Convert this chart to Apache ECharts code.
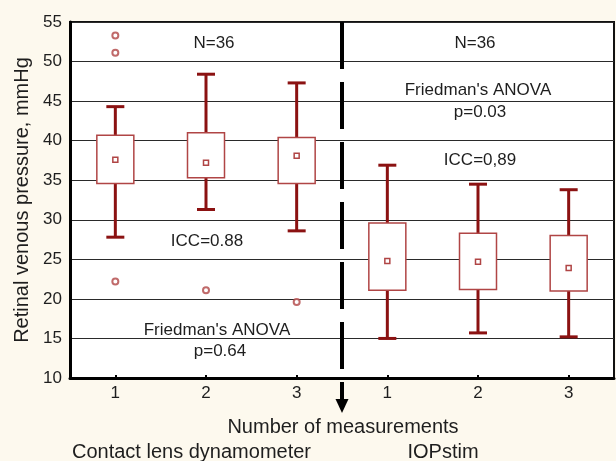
<!DOCTYPE html>
<html>
<head>
<meta charset="utf-8">
<script src="https://cdn.jsdelivr.net/npm/echarts@6/dist/echarts.min.js"></script>
<style>
  html, body { margin: 0; padding: 0; background: #fdf9ee; }
  #chart { width: 616px; height: 461px; }
</style>
</head>
<body>
<div id="chart"></div>
<script>
// measurement number within each device (first three = contact lens dynamometer, last three = IOPstim)
const categories = ["1", "2", "3", "1", "2", "3"];
const whiskerLow = [27.8, 31.3, 28.6, 15.0, 15.7, 15.2];
const boxLow = [34.6, 35.3, 34.6, 21.1, 21.2, 21.0];
const meanValues = [37.6, 37.2, 38.1, 24.8, 24.7, 23.9];
const boxHigh = [40.7, 41.0, 40.4, 29.6, 28.3, 28.0];
const whiskerHigh = [44.3, 48.4, 47.3, 36.9, 34.5, 33.8];
const outliers = [[0, 53.3], [0, 51.1], [0, 22.2], [1, 21.1], [2, 19.6]];
const separatorAfter = 2;

const textColor = "#1e1e1e";
const boxColor = "#b04545";
const whiskerColor = "#8b1212";
const font = "Liberation Sans, Arial, sans-serif";

const chart = echarts.init(document.getElementById("chart"), null, { renderer: "canvas" });

const boxData = categories.map((c, i) => [i, whiskerLow[i], boxLow[i], meanValues[i], boxHigh[i], whiskerHigh[i]]);

function renderBox(params, api) {
  const i = api.value(0);
  const x = api.coord([i, api.value(3)])[0];
  const yWL = api.coord([i, api.value(1)])[1];
  const yBL = api.coord([i, api.value(2)])[1];
  const yM = api.coord([i, api.value(3)])[1];
  const yBH = api.coord([i, api.value(4)])[1];
  const yWH = api.coord([i, api.value(5)])[1];
  const boxW = 37;
  const capW = 18;
  const whisker = { stroke: whiskerColor, lineWidth: 3 };
  return {
    type: "group",
    children: [
      { type: "line", shape: { x1: x, y1: yBH, x2: x, y2: yWH }, style: whisker },
      { type: "line", shape: { x1: x, y1: yBL, x2: x, y2: yWL }, style: whisker },
      { type: "line", shape: { x1: x - capW / 2, y1: yWH, x2: x + capW / 2, y2: yWH }, style: whisker },
      { type: "line", shape: { x1: x - capW / 2, y1: yWL, x2: x + capW / 2, y2: yWL }, style: whisker },
      { type: "rect", shape: { x: x - boxW / 2, y: yBH, width: boxW, height: yBL - yBH }, style: { fill: "#fff", stroke: boxColor, lineWidth: 1.5 } },
      { type: "rect", shape: { x: x - 2.5, y: yM - 2.5, width: 5, height: 5 }, style: { fill: "#fff", stroke: boxColor, lineWidth: 1.5 } },
    ],
  };
}

function renderSeparator(params, api) {
  const i = api.value(0);
  const x = api.coord([i, 55])[0] + api.size([1, 0])[0] / 2;
  const yTop = api.coord([i, 55])[1];
  const yAxis = api.coord([i, 10])[1];
  const yEnd = yAxis + 23;
  const yTip = yAxis + 35;
  return {
    type: "group",
    children: [
      { type: "line", shape: { x1: x, y1: yTop, x2: x, y2: yEnd }, style: { stroke: "#000", lineWidth: 4, lineDash: [47, 13] } },
      { type: "polygon", shape: { points: [[x - 6.5, yEnd - 2], [x + 6.5, yEnd - 2], [x, yTip]] }, style: { fill: "#000" } },
    ],
  };
}

function label(text, x, y, size = 17, align = "center") {
  return {
    type: "text",
    x, y,
    style: { text, fill: textColor, font: `${size}px ${font}`, textAlign: align, textVerticalAlign: "middle" },
    z: 50,
  };
}

chart.setOption({
  animation: false,
  backgroundColor: "#fdf9ee",
  textStyle: { fontFamily: font },
  grid: { left: 70, right: 2, top: 22, bottom: 83, show: true, backgroundColor: "#fff", borderColor: "#111", borderWidth: 2, outerBoundsMode: "none" },
  xAxis: {
    type: "category",
    data: categories,
    boundaryGap: true,
    axisLine: { lineStyle: { color: "#000", width: 3 } },
    axisTick: { show: true, inside: true, length: 3, alignWithLabel: true, lineStyle: { color: "#000", width: 2 } },
    axisLabel: { color: textColor, fontSize: 17, margin: 7 },
    splitLine: { show: false },
  },
  yAxis: {
    type: "value",
    min: 10,
    max: 55,
    interval: 5,
    name: "Retinal venous pressure, mmHg",
    nameLocation: "middle",
    nameGap: 37,
    nameTextStyle: { color: textColor, fontSize: 20 },
    axisLine: { show: true, lineStyle: { color: "#000", width: 3 } },
    axisTick: { show: false },
    axisLabel: { color: textColor, fontSize: 17, margin: 8 },
    splitLine: { show: true, lineStyle: { color: "#2a2a2a", width: 1 } },
  },
  series: [
    {
      name: "separator",
      type: "custom",
      clip: false,
      silent: true,
      renderItem: renderSeparator,
      data: [[separatorAfter]],
      z: 3,
    },
    {
      name: "measurements",
      type: "custom",
      renderItem: renderBox,
      encode: { x: 0, y: [1, 2, 3, 4, 5] },
      data: boxData,
      z: 4,
    },
    {
      name: "outliers",
      type: "scatter",
      symbol: "emptyCircle",
      symbolSize: 6,
      itemStyle: { color: boxColor, borderWidth: 1.5 },
      data: outliers,
      z: 5,
    },
  ],
  graphic: [
    label("N=36", 214, 43),
    label("N=36", 475, 43),
    label("Friedman's ANOVA", 478, 90),
    label("p=0.03", 480, 112),
    label("ICC=0,89", 480, 160),
    label("ICC=0.88", 207, 241),
    label("Friedman's ANOVA", 217, 330),
    label("p=0.64", 220, 351),
    label("Number of measurements", 343, 427, 20),
    label("Contact lens dynamometer", 72, 452, 20, "left"),
    label("IOPstim", 443, 452, 20),
  ],
});
</script>
</body>
</html>
